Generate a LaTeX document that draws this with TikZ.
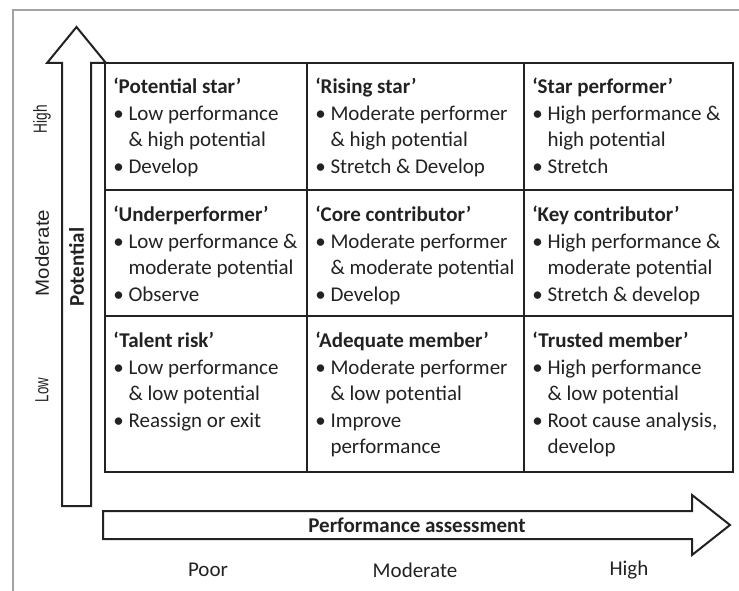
\documentclass[tikz,border=0pt]{standalone}
\usepackage{fontspec}
\setmainfont{Carlito}
\newfontfamily\sidefont{Liberation Sans}
\definecolor{inkGray}{HTML}{222222}
\definecolor{frameGray}{HTML}{A3A3A3}
\newcommand{\cellfont}{\fontsize{21}{26.5}\selectfont}
\newcommand{\itm}{\textbullet\ }
\newcommand{\cont}{\hphantom{\textbullet\ }}
\tikzset{every picture/.style={semithick}}
\tikzset{
  cell/.style={anchor=north west, align=left, inner sep=0pt, font=\cellfont, text=inkGray},
  axislabel/.style={inner sep=0pt, font=\cellfont\bfseries, text=inkGray},
  levellabel/.style={inner sep=0pt, font=\cellfont, text=inkGray},
  sidelabel/.style={inner sep=0pt, rotate=90, font=\sidefont\fontsize{19}{23}\selectfont, text=inkGray},
  axisarrow/.style={draw=inkGray, line width=2pt, fill=white, line join=miter},
  gridline/.style={draw=inkGray, line width=1.5pt}
}

\begin{document}
\begin{tikzpicture}[x=1pt,y=-1pt]
\useasboundingbox (0,0) rectangle (739,591);
\draw[frameGray, line width=1.2pt] (13,591) -- (13,10) -- (739,10);

\draw[axisarrow] (62,506) -- (62,63) -- (47,63) -- (76.5,27) -- (106,63) -- (91,63) -- (91,506) -- cycle;
\draw[axisarrow] (103,511) -- (692,511) -- (692,495) -- (730,525) -- (692,555) -- (692,539) -- (103,539) -- cycle;

\draw[gridline] (105,63) rectangle (733,472);
\draw[gridline] (307,63) -- (307,472);
\draw[gridline] (524,63) -- (524,472);
\draw[gridline] (105,190) -- (733,190);
\draw[gridline] (105,316) -- (733,316);

\node[cell] (pstar) at (113,78) {{\bfseries ‘Potential star’}\\
  \itm Low performance\\ \cont\& high potential\\ \itm Develop};
\node[cell] (rstar) at (315,78) {{\bfseries ‘Rising star’}\\
  \itm Moderate performer\\ \cont\& high potential\\ \itm Stretch \& Develop};
\node[cell] (sperf) at (532,78) {{\bfseries ‘Star performer’}\\
  \itm High performance \&\\ \cont high potential\\ \itm Stretch};

\node[cell] (uperf) at (113,206) {{\bfseries ‘Underperformer’}\\
  \itm Low performance \&\\ \cont moderate potential\\ \itm Observe};
\node[cell] (ccontr) at (315,206) {{\bfseries ‘Core contributor’}\\
  \itm Moderate performer\\ \cont\& moderate potential\\ \itm Develop};
\node[cell] (kcontr) at (532,206) {{\bfseries ‘Key contributor’}\\
  \itm High performance \&\\ \cont moderate potential\\ \itm Stretch \& develop};

\node[cell] (trisk) at (113,332) {{\bfseries ‘Talent risk’}\\
  \itm Low performance\\ \cont\& low potential\\ \itm Reassign or exit};
\node[cell] (amember) at (315,332) {{\bfseries ‘Adequate member’}\\
  \itm Moderate performer\\ \cont\& low potential\\ \itm Improve\\ \cont performance};
\node[cell] (tmember) at (532,332) {{\bfseries ‘Trusted member’}\\
  \itm High performance\\ \cont\& low potential\\ \itm Root cause analysis,\\ \cont develop};

\node[axislabel, rotate=90] (potential) at (76.5,267) {Potential};
\node[axislabel] (perf) at (417,525) {Performance assessment};

\node[sidelabel] (yhigh) at (42,119) {\scalebox{0.72}[1]{High}};
\node[sidelabel] (ymod) at (42,253) {\scalebox{1.08}[1]{Moderate}};
\node[sidelabel] (ylow) at (42,390) {\scalebox{0.7}[1]{Low}};

\node[levellabel] (xpoor) at (208,570) {Poor};
\node[levellabel] (xmod) at (415,570) {Moderate};
\node[levellabel] (xhigh) at (629,570) {High};
\end{tikzpicture}
\end{document}
